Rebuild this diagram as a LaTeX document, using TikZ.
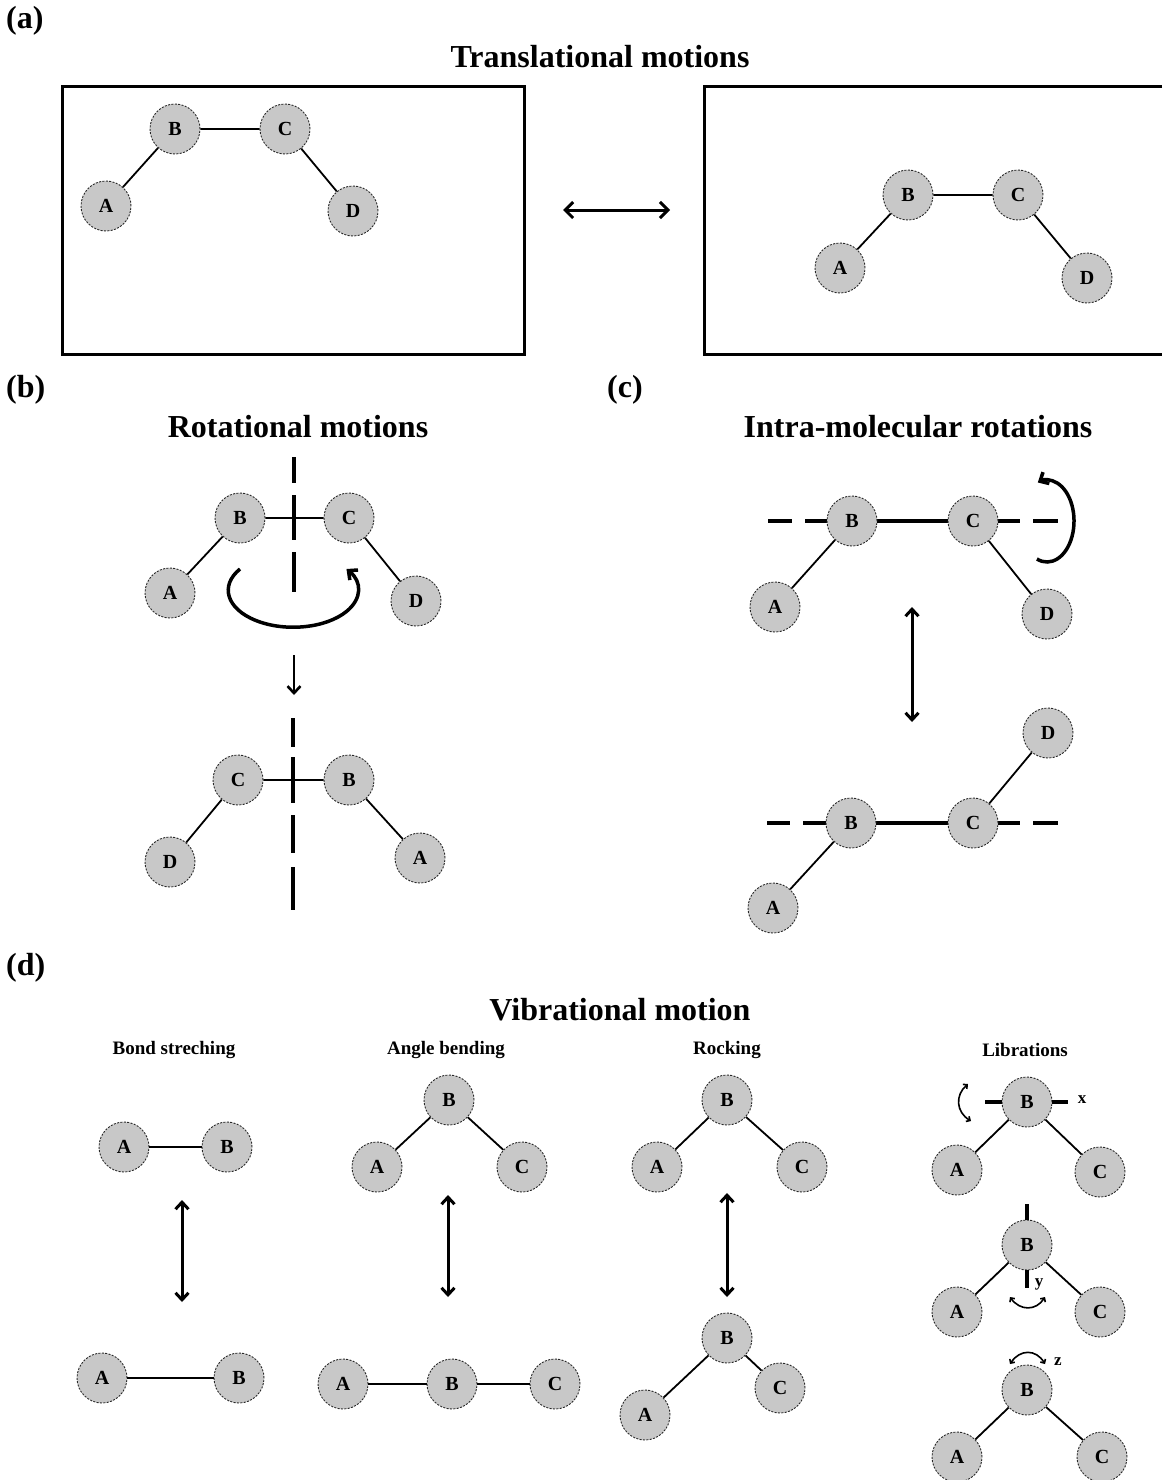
\documentclass[tikz,border=0pt]{standalone}
\usepackage{fontspec}
\setmainfont{Liberation Serif}
\usetikzlibrary{arrows.meta}
\definecolor{atomfill}{RGB}{200,200,200}
\definecolor{rimcol}{RGB}{40,40,40}
\tikzset{
  atomnode/.style={circle, draw=rimcol, line width=0.9pt, dash pattern=on 2pt off 1.4pt,
    fill=atomfill, minimum size=50pt, inner sep=0pt, font=\fontsize{20}{20}\selectfont\bfseries},
  bondline/.style={line width=1.8pt},
  heading/.style={font=\fontsize{32}{36}\selectfont\bfseries, inner sep=0pt},
  panellabel/.style={font=\fontsize{32}{36}\selectfont\bfseries, inner sep=0pt, anchor=west},
  subhead/.style={font=\fontsize{19}{22}\selectfont\bfseries, inner sep=0pt},
  axislabel/.style={font=\fontsize{17}{18}\selectfont\bfseries, inner sep=0pt},
  boxframe/.style={line width=3pt},
  swaparrow/.style={line width=3pt, {Straight Barb[length=8pt,width=16pt]}-{Straight Barb[length=8pt,width=16pt]}},
  vibarrow/.style={line width=3pt, {Straight Barb[length=7pt,width=13pt]}-{Straight Barb[length=7pt,width=13pt]}},
  downarrow/.style={line width=2.6pt, -{Straight Barb[length=7pt,width=13pt]}},
  axisline/.style={line width=4pt},
  spinarrow/.style={line width=3.5pt, -{Straight Barb[length=7pt,width=13pt]}},
  libspin/.style={line width=1.6pt, {Straight Barb[length=3pt,width=6pt]}-{Straight Barb[length=3pt,width=6pt]}},
  stubline/.style={line width=3.5pt},
}
\begin{document}
\begin{tikzpicture}[x=1pt,y=-1pt]
\useasboundingbox (0,0) rectangle (1162,1480);

% ---------- (a) translational motions ----------
\node[panellabel] (la) at (6,21) {(a)};
\node[heading] (ta) at (600,57) {Translational motions};
\draw[boxframe] (62,86) rectangle (524,354);
\draw[boxframe] (1162,86) -- (704,86) -- (704,354) -- (1162,354);

\node[atomnode] (a1A) at (106,206) {A};
\node[atomnode] (a1B) at (175,129) {B};
\node[atomnode] (a1C) at (285,129) {C};
\node[atomnode] (a1D) at (353,211) {D};
\draw[bondline] (a1A) -- (a1B) -- (a1C) -- (a1D);

\node[atomnode] (a2A) at (840,268) {A};
\node[atomnode] (a2B) at (908,195) {B};
\node[atomnode] (a2C) at (1018,195) {C};
\node[atomnode] (a2D) at (1087,278) {D};
\draw[bondline] (a2A) -- (a2B) -- (a2C) -- (a2D);

\coordinate (sa1) at (563,210);
\coordinate (sa2) at (670,210);
\draw[swaparrow] (sa1) -- (sa2);

% ---------- (b) rotational motions ----------
\node[panellabel] (lb) at (6,390) {(b)};
\node[heading] (tb) at (298,427) {Rotational motions};

\node[atomnode] (bA) at (170,593) {A};
\node[atomnode] (bB) at (240,518) {B};
\node[atomnode] (bC) at (349,518) {C};
\node[atomnode] (bD) at (416,601) {D};
\draw[bondline] (bA) -- (bB) -- (bC) -- (bD);

\coordinate (bx1) at (294,457);
\coordinate (bx2) at (294,592);
\draw[axisline, dash pattern=on 26pt off 12pt on 45pt off 12pt on 40pt off 60pt] (bx1) -- (bx2);
\draw[spinarrow] (240,569) arc[start angle=215, end angle=-35, x radius=65, y radius=37];

\coordinate (bd1) at (294,655);
\coordinate (bd2) at (294,695);
\draw[downarrow] (bd1) -- (bd2);

\node[atomnode] (bC2) at (238,780) {C};
\node[atomnode] (bB2) at (349,780) {B};
\node[atomnode] (bD2) at (170,862) {D};
\node[atomnode] (bA2) at (420,858) {A};
\draw[bondline] (bD2) -- (bC2) -- (bB2) -- (bA2);

\coordinate (by1) at (293,718);
\coordinate (by2) at (293,910);
\draw[axisline, dash pattern=on 29pt off 10pt on 46pt off 12pt on 38pt off 14pt on 43pt off 60pt] (by1) -- (by2);

% ---------- (c) intra-molecular rotations ----------
\node[panellabel] (lc) at (607,390) {(c)};
\node[heading] (tc) at (918,427) {Intra-molecular rotations};

\coordinate (cx1) at (768,521);
\coordinate (cx2) at (1058,521);
\draw[axisline, dash pattern=on 24pt off 13pt on 215pt off 13pt on 25pt off 60pt] (cx1) -- (cx2);
\node[atomnode] (cA) at (775,607) {A};
\node[atomnode] (cB) at (852,521) {B};
\node[atomnode] (cC) at (973,521) {C};
\node[atomnode] (cD) at (1047,614) {D};
\draw[bondline] (cA) -- (cB);
\draw[bondline] (cC) -- (cD);
\draw[spinarrow] (1036.9,559) arc[start angle=112, end angle=-110, x radius=27, y radius=41];

\coordinate (cv1) at (912,607);
\coordinate (cv2) at (912,722);
\draw[vibarrow] (cv1) -- (cv2);

\coordinate (cy1) at (767,823);
\coordinate (cy2) at (1058,823);
\draw[axisline, dash pattern=on 23pt off 13pt on 217pt off 13pt on 25pt off 60pt] (cy1) -- (cy2);
\node[atomnode] (cA2) at (773,908) {A};
\node[atomnode] (cB2) at (851,823) {B};
\node[atomnode] (cC2) at (973,823) {C};
\node[atomnode] (cD2) at (1048,733) {D};
\draw[bondline] (cA2) -- (cB2);
\draw[bondline] (cC2) -- (cD2);

% ---------- (d) vibrational motion ----------
\node[panellabel] (ld) at (6,968) {(d)};
\node[heading] (td) at (620,1010) {Vibrational motion};
\node[subhead] (sd1) at (174,1050) {Bond streching};
\node[subhead] (sd2) at (446,1050) {Angle bending};
\node[subhead] (sd3) at (727,1050) {Rocking};
\node[subhead] (sd4) at (1025,1050) {Librations};

% bond stretching
\node[atomnode] (dA) at (124,1147) {A};
\node[atomnode] (dB) at (227,1147) {B};
\draw[bondline] (dA) -- (dB);
\coordinate (dv1) at (182,1200);
\coordinate (dv2) at (182,1302);
\draw[vibarrow] (dv1) -- (dv2);
\node[atomnode] (dA2) at (102,1378) {A};
\node[atomnode] (dB2) at (239,1378) {B};
\draw[bondline] (dA2) -- (dB2);

% angle bending
\node[atomnode] (eB) at (449,1100) {B};
\node[atomnode] (eA) at (377,1167) {A};
\node[atomnode] (eC) at (522,1167) {C};
\draw[bondline] (eA) -- (eB) -- (eC);
\coordinate (ev1) at (448,1195);
\coordinate (ev2) at (448,1297);
\draw[vibarrow] (ev1) -- (ev2);
\node[atomnode] (eA2) at (343,1384) {A};
\node[atomnode] (eB2) at (452,1384) {B};
\node[atomnode] (eC2) at (555,1384) {C};
\draw[bondline] (eA2) -- (eB2) -- (eC2);

% rocking
\node[atomnode] (fB) at (727,1100) {B};
\node[atomnode] (fA) at (657,1167) {A};
\node[atomnode] (fC) at (802,1167) {C};
\draw[bondline] (fA) -- (fB) -- (fC);
\coordinate (fv1) at (727,1193);
\coordinate (fv2) at (727,1297);
\draw[vibarrow] (fv1) -- (fv2);
\node[atomnode] (fB2) at (727,1338) {B};
\node[atomnode] (fA2) at (645,1415) {A};
\node[atomnode] (fC2) at (780,1388) {C};
\draw[bondline] (fA2) -- (fB2) -- (fC2);

% librations about x
\node[atomnode] (gB) at (1027,1102) {B};
\node[atomnode] (gA) at (957,1170) {A};
\node[atomnode] (gC) at (1100,1172) {C};
\draw[bondline] (gA) -- (gB) -- (gC);
\coordinate (gx1) at (985,1102);
\coordinate (gx2) at (1068,1102);
\draw[stubline] (gx1) -- (gB.west);
\draw[stubline] (gB.east) -- (gx2);
\node[axislabel] (gxl) at (1082,1100) {x};
\draw[libspin] (968,1084) .. controls (955,1095) and (956,1112) .. (971,1121);

% librations about y
\node[atomnode] (hB) at (1027,1245) {B};
\node[atomnode] (hA) at (957,1312) {A};
\node[atomnode] (hC) at (1100,1312) {C};
\draw[bondline] (hA) -- (hB) -- (hC);
\coordinate (hy1) at (1027,1204);
\coordinate (hy2) at (1027,1288);
\draw[stubline] (hy1) -- (hB.north);
\draw[stubline] (hB.south) -- (hy2);
\node[axislabel] (hyl) at (1039,1284) {y};
\draw[libspin] (1010,1297) .. controls (1020,1311) and (1036,1311) .. (1045,1297);

% librations about z
\node[atomnode] (iB) at (1027,1390) {B};
\node[atomnode] (iA) at (957,1457) {A};
\node[atomnode] (iC) at (1102,1457) {C};
\draw[bondline] (iA) -- (iB) -- (iC);
\draw[libspin] (1010,1364) .. controls (1020,1349) and (1036,1349) .. (1045,1364);
\node[axislabel] (izl) at (1058,1362) {z};
\end{tikzpicture}
\end{document}
